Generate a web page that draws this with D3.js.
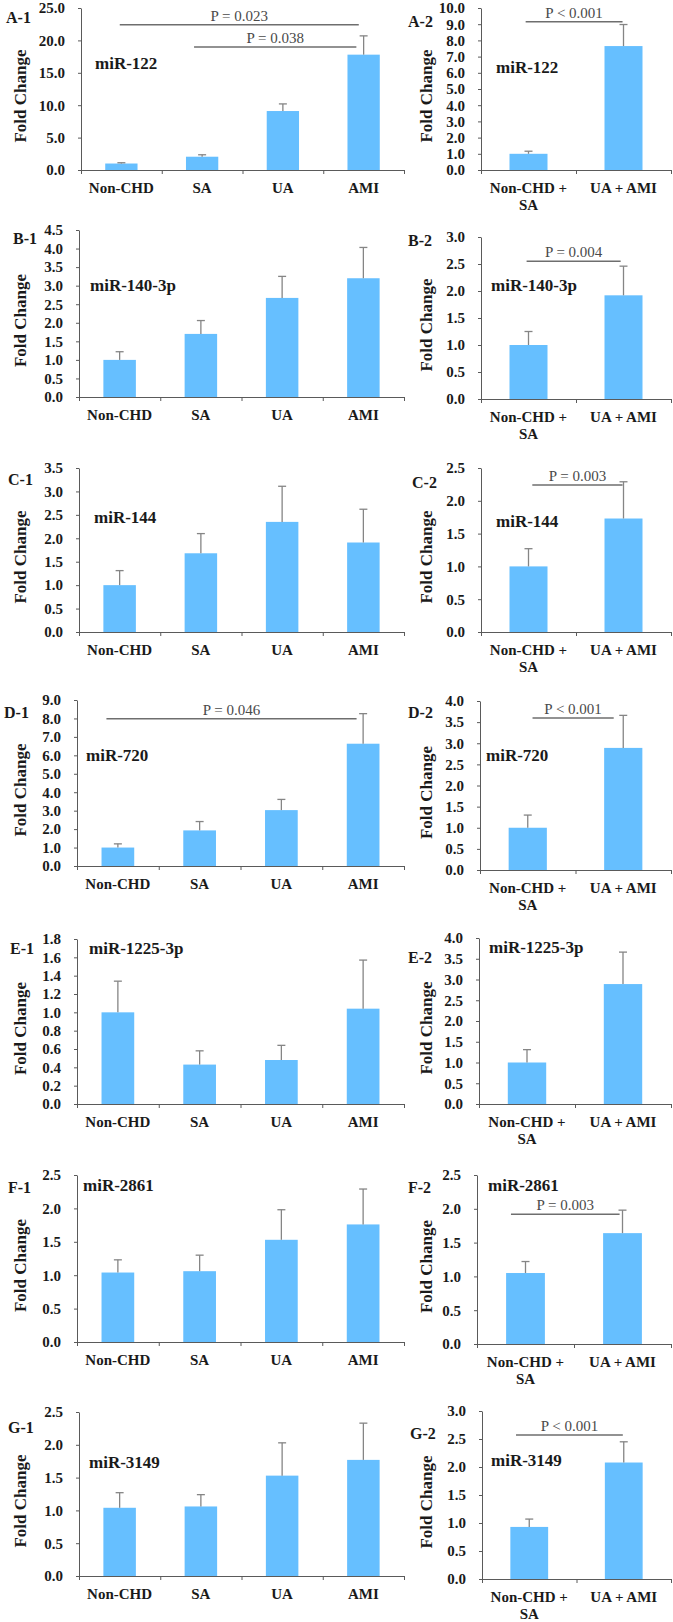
<!DOCTYPE html>
<html><head><meta charset="utf-8">
<script src="https://cdn.jsdelivr.net/npm/d3@7/dist/d3.min.js"></script>
<style>body{margin:0;background:#fff}text{font-family:"Liberation Serif","Times New Roman",serif}</style>
</head><body><svg id="chart" width="673" height="1622"></svg>
<script>
// ---------- data ----------
const groups4 = ["Non-CHD", "SA", "UA", "AMI"];
const groups2 = ["Non-CHD + SA", "UA + AMI"];

const a1Values = [1.0, 2.05, 9.1, 17.8];   const a1Errors = [0.12, 0.3, 1.1, 2.9];
const a2Values = [1.0, 7.65];              const a2Errors = [0.16, 1.33];
const b1Values = [1.0, 1.70, 2.67, 3.20];  const b1Errors = [0.22, 0.36, 0.58, 0.83];
const b2Values = [1.0, 1.92];              const b2Errors = [0.25, 0.54];
const c1Values = [1.0, 1.68, 2.35, 1.91];  const c1Errors = [0.31, 0.42, 0.76, 0.71];
const c2Values = [1.0, 1.73];              const c2Errors = [0.27, 0.56];
const d1Values = [1.0, 1.93, 3.03, 6.63];  const d1Errors = [0.2, 0.48, 0.58, 1.63];
const d2Values = [1.0, 2.89];              const d2Errors = [0.30, 0.77];
const e1Values = [1.0, 0.43, 0.48, 1.04];  const e1Errors = [0.34, 0.15, 0.16, 0.53];
const e2Values = [1.0, 2.89];              const e2Errors = [0.31, 0.77];
const f1Values = [1.04, 1.06, 1.53, 1.76]; const f1Errors = [0.19, 0.24, 0.45, 0.53];
const f2Values = [1.05, 1.64];             const f2Errors = [0.17, 0.34];
const g1Values = [1.04, 1.06, 1.53, 1.77]; const g1Errors = [0.23, 0.18, 0.50, 0.56];
const g2Values = [0.93, 2.08];             const g2Errors = [0.14, 0.37];

const a1Ticks = [0, 5, 10, 15, 20, 25];
const a2Ticks = [0, 1, 2, 3, 4, 5, 6, 7, 8, 9, 10];
const b1Ticks = [0, 0.5, 1, 1.5, 2, 2.5, 3, 3.5, 4, 4.5];
const b2Ticks = [0, 0.5, 1, 1.5, 2, 2.5, 3];
const c1Ticks = [0, 0.5, 1, 1.5, 2, 2.5, 3, 3.5];
const c2Ticks = [0, 0.5, 1, 1.5, 2, 2.5];
const d1Ticks = [0, 1, 2, 3, 4, 5, 6, 7, 8, 9];
const d2Ticks = [0, 0.5, 1, 1.5, 2, 2.5, 3, 3.5, 4];
const e1Ticks = [0, 0.2, 0.4, 0.6, 0.8, 1.0, 1.2, 1.4, 1.6, 1.8];
const e2Ticks = [0, 0.5, 1, 1.5, 2, 2.5, 3, 3.5, 4];
const f1Ticks = [0, 0.5, 1, 1.5, 2, 2.5];
const f2Ticks = [0, 0.5, 1, 1.5, 2, 2.5];
const g1Ticks = [0, 0.5, 1, 1.5, 2, 2.5];
const g2Ticks = [0, 0.5, 1, 1.5, 2, 2.5, 3];

// significance brackets: category-index span and height in data units
const a1Sig = [{from: 0.48, to: 3.44, y: 22.4, text: "P = 0.023"}, {from: 1.40, to: 3.41, y: 19.0, text: "P = 0.038"}];
const a2Sig = [{from: 0.47, to: 1.49, y: 9.15, text: "P < 0.001"}];
const b2Sig = [{from: 0.48, to: 1.47, y: 2.55, text: "P = 0.004"}];
const c2Sig = [{from: 0.54, to: 1.49, y: 2.24, text: "P = 0.003"}];
const d1Sig = [{from: 0.36, to: 3.42, y: 7.98, text: "P = 0.046"}];
const d2Sig = [{from: 0.55, to: 1.40, y: 3.60, text: "P < 0.001"}];
const f2Sig = [{from: 0.35, to: 1.47, y: 1.92, text: "P = 0.003"}];
const g2Sig = [{from: 0.36, to: 1.49, y: 2.57, text: "P < 0.001"}];

// ---------- layout ----------
const panels = [
  {tag:"A-1", mir:"miR-122", cats:groups4, values:a1Values, errors:a1Errors, ticks:a1Ticks, sig:a1Sig, x0:81, x1:404, top:8, base:170, tag_xy:[6,23], mir_xy:[95,69]},
  {tag:"A-2", mir:"miR-122", cats:groups2, values:a2Values, errors:a2Errors, ticks:a2Ticks, sig:a2Sig, x0:481, x1:671, top:8, base:170, tag_xy:[408,27], mir_xy:[496,73]},
  {tag:"B-1", mir:"miR-140-3p", cats:groups4, values:b1Values, errors:b1Errors, ticks:b1Ticks, sig:[], x0:79, x1:404, top:230, base:397, tag_xy:[13,244], mir_xy:[90,291]},
  {tag:"B-2", mir:"miR-140-3p", cats:groups2, values:b2Values, errors:b2Errors, ticks:b2Ticks, sig:b2Sig, x0:481, x1:671, top:237, base:399, tag_xy:[408,246], mir_xy:[491,291]},
  {tag:"C-1", mir:"miR-144", cats:groups4, values:c1Values, errors:c1Errors, ticks:c1Ticks, sig:[], x0:79, x1:404, top:468, base:632, tag_xy:[8,485], mir_xy:[94,523]},
  {tag:"C-2", mir:"miR-144", cats:groups2, values:c2Values, errors:c2Errors, ticks:c2Ticks, sig:c2Sig, x0:481, x1:671, top:468, base:632, tag_xy:[412,488], mir_xy:[496,527]},
  {tag:"D-1", mir:"miR-720", cats:groups4, values:d1Values, errors:d1Errors, ticks:d1Ticks, sig:d1Sig, x0:77, x1:404, top:700, base:866, tag_xy:[4,718], mir_xy:[86,761]},
  {tag:"D-2", mir:"miR-720", cats:groups2, values:d2Values, errors:d2Errors, ticks:d2Ticks, sig:d2Sig, x0:480, x1:671, top:701, base:870, tag_xy:[408,718], mir_xy:[486,761]},
  {tag:"E-1", mir:"miR-1225-3p", cats:groups4, values:e1Values, errors:e1Errors, ticks:e1Ticks, sig:[], x0:77, x1:404, top:939, base:1104, tag_xy:[10,954], mir_xy:[89,954]},
  {tag:"E-2", mir:"miR-1225-3p", cats:groups2, values:e2Values, errors:e2Errors, ticks:e2Ticks, sig:[], x0:479, x1:671, top:938, base:1104, tag_xy:[408,963], mir_xy:[489,953]},
  {tag:"F-1", mir:"miR-2861", cats:groups4, values:f1Values, errors:f1Errors, ticks:f1Ticks, sig:[], x0:77, x1:404, top:1175, base:1342, tag_xy:[8,1193], mir_xy:[83,1191]},
  {tag:"F-2", mir:"miR-2861", cats:groups2, values:f2Values, errors:f2Errors, ticks:f2Ticks, sig:f2Sig, x0:477, x1:671, top:1175, base:1344, tag_xy:[408,1193], mir_xy:[488,1191]},
  {tag:"G-1", mir:"miR-3149", cats:groups4, values:g1Values, errors:g1Errors, ticks:g1Ticks, sig:[], x0:79, x1:404, top:1412, base:1576, tag_xy:[8,1433], mir_xy:[89,1468]},
  {tag:"G-2", mir:"miR-3149", cats:groups2, values:g2Values, errors:g2Errors, ticks:g2Ticks, sig:g2Sig, x0:482, x1:671, top:1411, base:1579, tag_xy:[410,1439], mir_xy:[491,1466]}
];

const BAR = "#66BFFF", AXIS = "#5a5a5a", ERR = "#858585", TXT = "#1a1a1a", SIG = "#6e6e6e";
const FONT = '"Liberation Serif","Times New Roman",serif';
const svg = d3.select("#chart");
const fmt = d3.format(".1f");

panels.forEach(p => {
  const g = svg.append("g");
  const n = p.cats.length;
  const x = d3.scaleBand().domain(p.cats).range([p.x0, p.x1]).paddingInner(0.6).paddingOuter(0.3);
  const pos = d3.scaleLinear().domain([0, n]).range([p.x0, p.x1]);   // category-index scale
  const y = d3.scaleLinear().domain([0, p.ticks[p.ticks.length - 1]]).range([p.base, p.top]);

  // y axis
  const ya = g.append("g").attr("transform", `translate(${p.x0},0)`)
    .call(d3.axisLeft(y).tickValues(p.ticks).tickFormat(fmt).tickSizeInner(3).tickSizeOuter(0).tickPadding(13));
  ya.select(".domain").attr("stroke", AXIS);
  ya.selectAll(".tick line").attr("stroke", AXIS);
  ya.selectAll(".tick text").attr("fill", TXT).style("font-size", "15px").style("font-weight", "bold")
    .style("font-family", FONT);

  // bars
  g.selectAll("rect.bar").data(p.cats).join("rect").attr("class", "bar")
    .attr("x", d => x(d)).attr("width", x.bandwidth())
    .attr("y", (d, i) => y(p.values[i])).attr("height", (d, i) => y(0) - y(p.values[i]))
    .attr("fill", BAR);

  // error bars (upper only)
  const cap = 4;
  p.cats.forEach((c, i) => {
    const cx = x(c) + x.bandwidth() / 2;
    const yt = y(p.values[i] + p.errors[i]);
    g.append("line").attr("x1", cx).attr("x2", cx).attr("y1", y(p.values[i])).attr("y2", yt)
      .attr("stroke", ERR).attr("stroke-width", 1.3);
    g.append("line").attr("x1", cx - cap).attr("x2", cx + cap).attr("y1", yt).attr("y2", yt)
      .attr("stroke", ERR).attr("stroke-width", 1.3);
  });

  // x axis with boundary ticks
  const xa = g.append("g").attr("transform", `translate(0,${p.base})`)
    .call(d3.axisBottom(pos).tickValues(d3.range(n + 1)).tickFormat("").tickSizeInner(4).tickSizeOuter(0));
  xa.select(".domain").attr("stroke", AXIS);
  xa.selectAll(".tick line").attr("stroke", AXIS);

  // category labels
  p.cats.forEach(c => {
    const cx = x(c) + x.bandwidth() / 2;
    const lines = c.length > 10 ? [c.slice(0, c.lastIndexOf(" ")), c.slice(c.lastIndexOf(" ") + 1)] : [c];
    const t = g.append("text").attr("text-anchor", "middle").attr("fill", TXT)
      .style("font-family", FONT).style("font-size", "15px").style("font-weight", "bold");
    lines.forEach((l, k) => t.append("tspan").attr("x", cx).attr("y", p.base + 23 + k * 17).text(l));
  });

  // Fold Change label
  const fx = p.x0 < 200 ? 20 : 426;
  const fy = (p.top + p.base) / 2 + 7;
  g.append("text").attr("transform", `translate(${fx},${fy}) rotate(-90)`).attr("text-anchor", "middle")
    .attr("dy", "0.35em").attr("fill", TXT).style("font-family", FONT)
    .style("font-size", "17px").style("font-weight", "bold").text("Fold Change");

  // panel tag & miRNA name
  g.append("text").attr("x", p.tag_xy[0]).attr("y", p.tag_xy[1]).attr("fill", TXT).style("font-family", FONT)
    .style("font-size", "16px").style("font-weight", "bold").text(p.tag);
  g.append("text").attr("x", p.mir_xy[0]).attr("y", p.mir_xy[1]).attr("fill", TXT).style("font-family", FONT)
    .style("font-size", "17px").style("font-weight", "bold").text(p.mir);

  // significance brackets
  p.sig.forEach(s => {
    g.append("line").attr("x1", pos(s.from)).attr("x2", pos(s.to)).attr("y1", y(s.y)).attr("y2", y(s.y))
      .attr("stroke", SIG).attr("stroke-width", 1.5);
    g.append("text").attr("x", (pos(s.from) + pos(s.to)) / 2).attr("y", y(s.y) - 4)
      .attr("text-anchor", "middle").attr("fill", "#4a4a4a").style("font-family", FONT)
      .style("font-size", "15px").text(s.text);
  });
});
</script></body></html>
